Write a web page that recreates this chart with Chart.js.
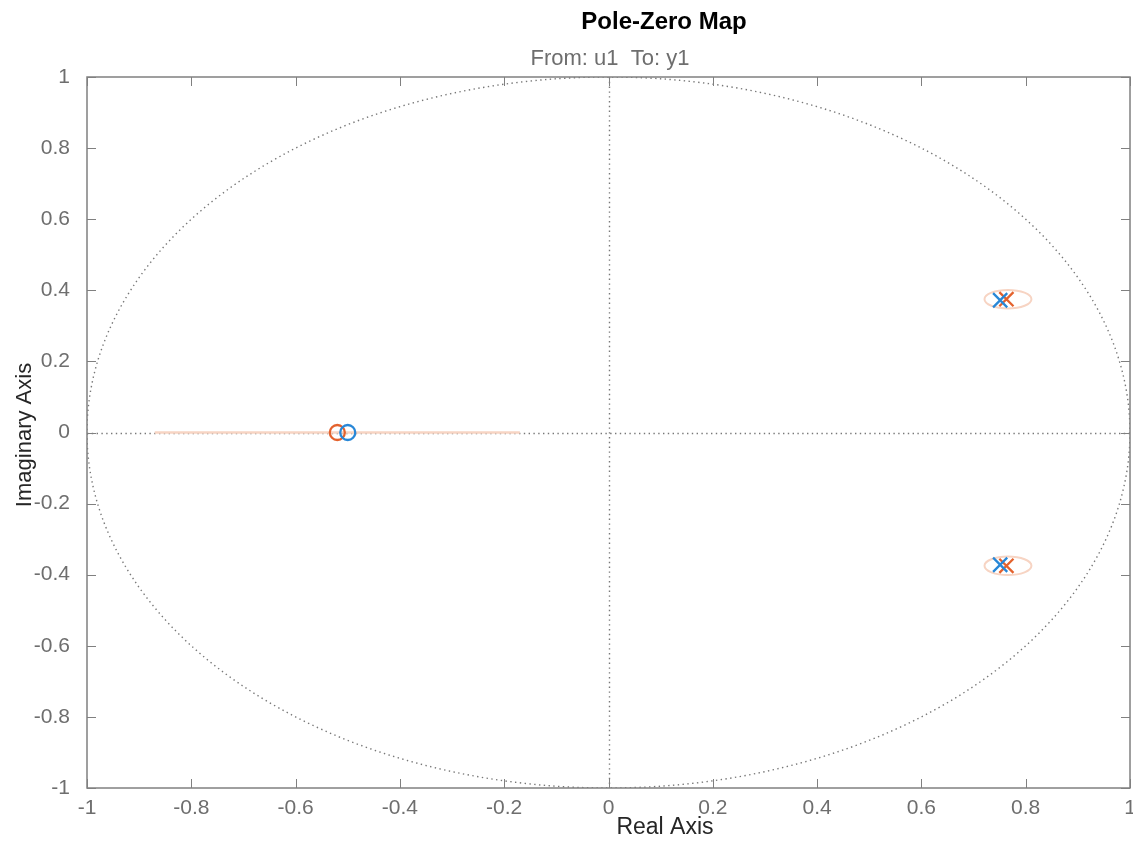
<!DOCTYPE html>
<html>
<head>
<meta charset="utf-8">
<script src="https://cdn.jsdelivr.net/npm/chart.js@4"></script>
<style>
  html, body { margin: 0; padding: 0; background: #fff; }
  #wrap { width: 1133px; height: 844px; }
</style>
</head>
<body>
<div id="wrap"><canvas id="pzChart" width="1133" height="844"></canvas></div>
<script>
const blueZeros = [{ x: -0.50, y: 0 }];
const orangeZeros = [{ x: -0.52, y: 0 }];
const bluePoles = [{ x: 0.751, y: 0.372 }, { x: 0.751, y: -0.372 }];
const orangePoles = [{ x: 0.763, y: 0.375 }, { x: 0.763, y: -0.375 }];
// confidence region for the orange zero (segment along real axis)
const zeroRegion = [{ x: -0.87, y: 0 }, { x: -0.17, y: 0 }];
// confidence ellipses for the orange poles: center x, center y, radius x, radius y
const poleRegionX = [0.766, 0.766];
const poleRegionY = [0.375, -0.375];
const poleRegionRx = [0.045, 0.045];
const poleRegionRy = [0.026, 0.026];
const tickValues = [-1, -0.8, -0.6, -0.4, -0.2, 0, 0.2, 0.4, 0.6, 0.8, 1];

const BLUE = "rgb(40,135,215)";
const ORANGE = "rgb(228,98,45)";
const REGION = "rgb(247,212,195)";
const AXIS = "rgb(128,128,128)";
const LABEL = "rgb(110,110,110)";
const FONT = "'Liberation Sans', Arial, sans-serif";

const fmt = v => String(Number(v.toFixed(1)));

const backdrop = {
  id: "backdrop",
  beforeDatasetsDraw(chart) {
    const { ctx, chartArea: a, scales: { x, y } } = chart;
    ctx.save();
    ctx.beginPath();
    ctx.rect(a.left, a.top, a.right - a.left, a.bottom - a.top);
    ctx.clip();
    // unit circle + crosshair, dotted
    ctx.strokeStyle = "rgb(120,120,120)";
    ctx.lineWidth = 1.4;
    ctx.setLineDash([1.4, 3.4]);
    const cx = x.getPixelForValue(0), cy = y.getPixelForValue(0);
    ctx.beginPath();
    ctx.ellipse(cx, cy, x.getPixelForValue(1) - cx, cy - y.getPixelForValue(1), 0, 0, Math.PI * 2);
    ctx.stroke();
    ctx.beginPath();
    ctx.moveTo(Math.round(cx) + 0.5, a.top); ctx.lineTo(Math.round(cx) + 0.5, a.bottom);
    ctx.moveTo(a.left, Math.round(cy) + 0.5); ctx.lineTo(a.right, Math.round(cy) + 0.5);
    ctx.stroke();
    ctx.setLineDash([]);
    // pole confidence ellipses
    ctx.strokeStyle = REGION;
    ctx.lineWidth = 2;
    poleRegionX.forEach((px, i) => {
      const ex = x.getPixelForValue(px), ey = y.getPixelForValue(poleRegionY[i]);
      const rx = x.getPixelForValue(px + poleRegionRx[i]) - ex;
      const ry = ey - y.getPixelForValue(poleRegionY[i] + poleRegionRy[i]);
      ctx.beginPath();
      ctx.ellipse(ex, ey, rx, ry, 0, 0, Math.PI * 2);
      ctx.stroke();
    });
    ctx.restore();
  },
  afterDraw(chart) {
    const { ctx, chartArea: a, scales: { x, y } } = chart;
    ctx.save();
    // box + inward ticks
    ctx.strokeStyle = AXIS;
    ctx.lineWidth = 1.5;
    ctx.strokeRect(a.left, a.top, a.right - a.left, a.bottom - a.top);
    ctx.lineWidth = 1;
    ctx.beginPath();
    tickValues.forEach(v => {
      const px = Math.round(x.getPixelForValue(v)) + 0.5;
      ctx.moveTo(px, a.bottom); ctx.lineTo(px, a.bottom - 9);
      ctx.moveTo(px, a.top); ctx.lineTo(px, a.top + 9);
      const py = Math.round(y.getPixelForValue(v)) + 0.5;
      ctx.moveTo(a.left, py); ctx.lineTo(a.left + 9, py);
      ctx.moveTo(a.right, py); ctx.lineTo(a.right - 9, py);
    });
    ctx.stroke();
    // x tick labels
    ctx.textAlign = "center";
    ctx.textBaseline = "middle";
    ctx.fillStyle = LABEL;
    ctx.font = "21px " + FONT;
    tickValues.forEach(v => ctx.fillText(fmt(v), x.getPixelForValue(v), a.bottom + 20));
    // titles
    ctx.fillStyle = "#000";
    ctx.font = "bold 24px " + FONT;
    ctx.fillText("Pole-Zero Map", 664, 22);
    ctx.fillStyle = LABEL;
    ctx.font = "22px " + FONT;
    ctx.fillText("From: u1  To: y1", 610, 59);
    ctx.fillStyle = "#262626";
    ctx.font = "23px " + FONT;
    ctx.fillText("Real Axis", 665, 828);
    ctx.font = "22px " + FONT;
    ctx.translate(25, 435);
    ctx.rotate(-Math.PI / 2);
    ctx.fillText("Imaginary Axis", 0, 0);
    ctx.restore();
  }
};

const ctx = document.getElementById("pzChart").getContext("2d");
new Chart(ctx, {
  type: "scatter",
  data: {
    datasets: [
      { data: bluePoles, pointStyle: "cross", rotation: 45, radius: 10, borderColor: BLUE, borderWidth: 2.3, order: 1 },
      { data: orangePoles, pointStyle: "cross", rotation: 45, radius: 10, borderColor: ORANGE, borderWidth: 2.3, order: 2 },
      { data: blueZeros, pointStyle: "circle", radius: 7.5, borderColor: BLUE, backgroundColor: "rgba(0,0,0,0)", borderWidth: 2.3, order: 3 },
      { data: orangeZeros, pointStyle: "circle", radius: 7.5, borderColor: ORANGE, backgroundColor: "rgba(0,0,0,0)", borderWidth: 2.3, order: 4 },
      { data: zeroRegion, showLine: true, pointRadius: 0, borderColor: REGION, borderWidth: 2.5, order: 5 }
    ]
  },
  options: {
    responsive: false,
    animation: false,
    events: [],
    layout: { autoPadding: false, padding: { top: 77, right: 3, left: 0, bottom: 0 } },
    plugins: { legend: { display: false }, tooltip: { enabled: false } },
    scales: {
      x: {
        type: "linear", min: -1, max: 1,
        afterFit: s => { s.height = 56; },
        afterBuildTicks: s => { s.ticks = tickValues.map(v => ({ value: v })); },
        grid: { display: false },
        border: { display: false },
        ticks: { display: false }
      },
      y: {
        type: "linear", min: -1, max: 1,
        afterFit: s => { s.width = 87; },
        afterBuildTicks: s => { s.ticks = tickValues.map(v => ({ value: v })); },
        grid: { display: false },
        border: { display: false },
        ticks: { color: LABEL, font: { family: FONT, size: 21 }, padding: 9, autoSkip: false, callback: fmt }
      }
    }
  },
  plugins: [backdrop]
});
</script>
</body>
</html>
